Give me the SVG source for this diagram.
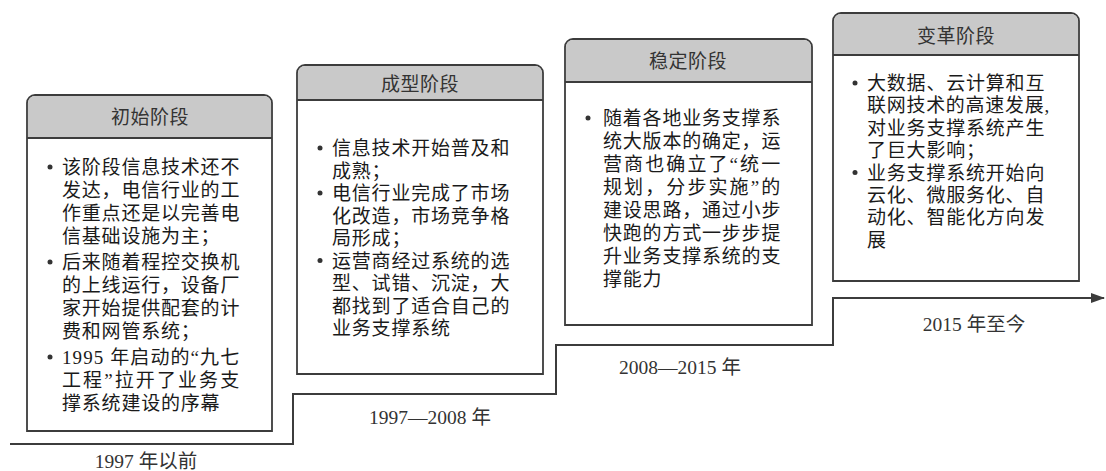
<svg xmlns="http://www.w3.org/2000/svg" width="1106" height="471" viewBox="0 0 1106 471">
<style>
.hdr{fill:#c9c9c9;stroke:none}
.box{fill:#ffffff;stroke:#3c3c3c;stroke-width:1.8}
.sep{stroke:#3c3c3c;stroke-width:1.8;fill:none}
.title{font-family:"Liberation Serif","Noto Sans CJK SC",serif;font-size:19px;fill:#333;text-anchor:middle;letter-spacing:0.5px}
.body{font-family:"Liberation Serif","Noto Sans CJK SC",serif;font-size:19px;fill:#1a1a1a;letter-spacing:0.8px}
.lbl{font-family:"Liberation Serif","Noto Sans CJK SC",serif;font-size:19.5px;fill:#333;text-anchor:middle}
.dot{fill:#333}
.step{fill:none;stroke:#3c3c3c;stroke-width:2}
</style>
<defs>
<marker id="arr" markerWidth="14" markerHeight="10" refX="13" refY="5" orient="auto" markerUnits="userSpaceOnUse">
<path d="M0,0 L14,5 L0,10 Z" fill="#3c3c3c"/>
</marker>
</defs>

<g id="connectors">
<path class="step" d="M10,444 H293 V394 H556 V345 H833 V298 H1104" marker-end="url(#arr)"/>
</g>

<g id="stage1">
<path class="box" d="M27,431 V103 A8,8 0 0 1 35,95 H264 A8,8 0 0 1 272,103 V431 Z"/>
<path class="hdr" d="M28,137 V103 A7,7 0 0 1 35,96 H264 A7,7 0 0 1 271,103 V137 Z"/>
<line class="sep" x1="27" y1="138" x2="272" y2="138"/>
<text class="title" x="150" y="124">初始阶段</text>
<circle class="dot" cx="50" cy="167" r="2.5"/>
<circle class="dot" cx="50" cy="262" r="2.5"/>
<circle class="dot" cx="50" cy="357" r="2.5"/>
<text class="body" x="62" y="174">该阶段信息技术还不</text>
<text class="body" x="62" y="197">发达，电信行业的工</text>
<text class="body" x="62" y="220">作重点还是以完善电</text>
<text class="body" x="62" y="243">信基础设施为主；</text>
<text class="body" x="62" y="269">后来随着程控交换机</text>
<text class="body" x="62" y="292">的上线运行，设备厂</text>
<text class="body" x="62" y="315">家开始提供配套的计</text>
<text class="body" x="62" y="338">费和网管系统；</text>
<text class="body" x="62" y="364" textLength="178" lengthAdjust="spacing">1995 年启动的“九七</text>
<text class="body" x="62" y="387" textLength="178" lengthAdjust="spacing">工程”拉开了业务支</text>
<text class="body" x="62" y="410">撑系统建设的序幕</text>
</g>
<text class="lbl" x="146" y="468">1997 年以前</text>

<g id="stage2">
<path class="box" d="M297,374 V73 A8,8 0 0 1 305,65 H535 A8,8 0 0 1 543,73 V374 Z"/>
<path class="hdr" d="M298,99 V73 A7,7 0 0 1 305,66 H535 A7,7 0 0 1 542,73 V99 Z"/>
<line class="sep" x1="297" y1="100" x2="543" y2="100"/>
<text class="title" x="420" y="91">成型阶段</text>
<circle class="dot" cx="320" cy="148" r="2.5"/>
<circle class="dot" cx="320" cy="193" r="2.5"/>
<circle class="dot" cx="320" cy="260.5" r="2.5"/>
<text class="body" x="332" y="155">信息技术开始普及和</text>
<text class="body" x="332" y="177.5">成熟；</text>
<text class="body" x="332" y="200">电信行业完成了市场</text>
<text class="body" x="332" y="222.5">化改造，市场竞争格</text>
<text class="body" x="332" y="245">局形成；</text>
<text class="body" x="332" y="267.5">运营商经过系统的选</text>
<text class="body" x="332" y="290">型、试错、沉淀，大</text>
<text class="body" x="332" y="312.5">都找到了适合自己的</text>
<text class="body" x="332" y="335">业务支撑系统</text>
</g>
<text class="lbl" x="430" y="424">1997—2008 年</text>

<g id="stage3">
<path class="box" d="M565,325 V47 A8,8 0 0 1 573,39 H804 A8,8 0 0 1 812,47 V325 Z"/>
<path class="hdr" d="M566,81 V47 A7,7 0 0 1 573,40 H804 A7,7 0 0 1 811,47 V81 Z"/>
<line class="sep" x1="565" y1="82" x2="812" y2="82"/>
<text class="title" x="688" y="68">稳定阶段</text>
<circle class="dot" cx="588" cy="118" r="2.5"/>
<text class="body" x="603" y="125">随着各地业务支撑系</text>
<text class="body" x="603" y="148">统大版本的确定，运</text>
<text class="body" x="603" y="171" textLength="178" lengthAdjust="spacing">营商也确立了“统一</text>
<text class="body" x="603" y="194" textLength="178" lengthAdjust="spacing">规划，分步实施”的</text>
<text class="body" x="603" y="217">建设思路，通过小步</text>
<text class="body" x="603" y="240">快跑的方式一步步提</text>
<text class="body" x="603" y="263">升业务支撑系统的支</text>
<text class="body" x="603" y="286">撑能力</text>
</g>
<text class="lbl" x="680" y="374">2008—2015 年</text>

<g id="stage4">
<path class="box" d="M833,281 V21 A8,8 0 0 1 841,13 H1071 A8,8 0 0 1 1079,21 V281 Z"/>
<path class="hdr" d="M834,54 V21 A7,7 0 0 1 841,14 H1071 A7,7 0 0 1 1078,21 V54 Z"/>
<line class="sep" x1="833" y1="55" x2="1079" y2="55"/>
<text class="title" x="956" y="43">变革阶段</text>
<circle class="dot" cx="855" cy="83" r="2.5"/>
<circle class="dot" cx="855" cy="172.6" r="2.5"/>
<text class="body" x="867" y="90">大数据、云计算和互</text>
<text class="body" x="867" y="112.4" textLength="183" lengthAdjust="spacingAndGlyphs">联网技术的高速发展,</text>
<text class="body" x="867" y="134.8">对业务支撑系统产生</text>
<text class="body" x="867" y="157.2">了巨大影响；</text>
<text class="body" x="867" y="179.6">业务支撑系统开始向</text>
<text class="body" x="867" y="202">云化、微服务化、自</text>
<text class="body" x="867" y="224.4">动化、智能化方向发</text>
<text class="body" x="867" y="246.8">展</text>
</g>
<text class="lbl" x="974" y="331">2015 年至今</text>
</svg>
